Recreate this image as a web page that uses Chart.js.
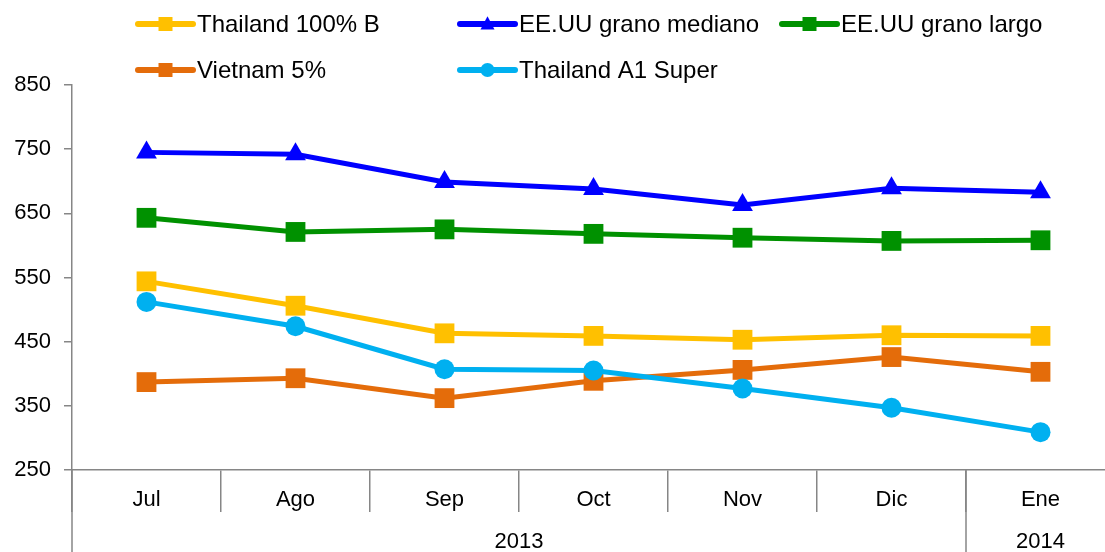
<!DOCTYPE html>
<html>
<head>
<meta charset="utf-8">
<script src="https://cdn.jsdelivr.net/npm/chart.js@4.4.1/dist/chart.umd.min.js"></script>
<style>
  html, body { margin: 0; padding: 0; background: #fff; overflow: hidden; }
  #wrap { width: 1105px; height: 552px; overflow: hidden; position: relative; }
  #c { display: block; }
</style>
</head>
<body>
<div id="wrap"><canvas id="c" width="1129" height="552"></canvas></div>
<script>
// ─── DATA ────────────────────────────────────────────────────────────────────
const months = ['Jul', 'Ago', 'Sep', 'Oct', 'Nov', 'Dic', 'Ene'];
const yearLabels = ['2013', '2014'];
const yearSpans = [6, 1];
const yTicks = [250, 350, 450, 550, 650, 750, 850];

const thai100B   = [544, 506, 463, 459, 453, 460, 459];
const usMedium   = [745, 742, 699, 688, 663, 689, 683];
const usLong     = [643, 621, 625, 618, 612, 607, 608];
const vietnam5   = [387, 393, 362, 389, 406, 426, 403];
const thaiA1     = [512, 474, 407, 405, 377, 347, 309];

// ─── STYLE ───────────────────────────────────────────────────────────────────
const FONT = "'Liberation Sans', Arial, sans-serif";
const AXIS = '#868686';

const series = [
  { label: 'Thailand 100% B',     data: thai100B, color: '#FFC000', style: 'rect',     r: 14, order: 5 },
  { label: 'EE.UU grano mediano', data: usMedium, color: '#0000FF', style: 'triangle', r: 12, order: 4 },
  { label: 'EE.UU grano largo',   data: usLong,   color: '#009100', style: 'rect',     r: 14, order: 3 },
  { label: 'Vietnam 5%',          data: vietnam5, color: '#E46C0A', style: 'rect',     r: 14, order: 2 },
  { label: 'Thailand A1 Super',   data: thaiA1,   color: '#00B0F0', style: 'circle',   r: 10, order: 1 },
];

// legend slots: [x of line start, row y]
const legendSlots = [[138, 24], [460, 24], [782, 24], [138, 70], [460, 70]];

function marker(ctx, style, x, y, s, color) {
  ctx.fillStyle = color;
  ctx.beginPath();
  if (style === 'rect') ctx.rect(x - s / 2, y - s / 2, s, s);
  else if (style === 'circle') ctx.arc(x, y, s / 2, 0, Math.PI * 2);
  else { ctx.moveTo(x, y - s * 0.55); ctx.lineTo(x + s / 2, y + s * 0.4); ctx.lineTo(x - s / 2, y + s * 0.4); ctx.closePath(); }
  ctx.fill();
}

const extras = {
  id: 'extras',
  afterDraw(chart) {
    const { ctx, chartArea, scales: { x } } = chart;
    ctx.save();
    // legend
    ctx.font = '24px ' + FONT;
    ctx.textBaseline = 'middle';
    series.forEach((s, i) => {
      const [lx, ly] = legendSlots[i];
      ctx.strokeStyle = s.color;
      ctx.lineWidth = 6;
      ctx.lineCap = 'round';
      ctx.beginPath(); ctx.moveTo(lx, ly); ctx.lineTo(lx + 55, ly); ctx.stroke();
      marker(ctx, s.style, lx + 27.5, ly, 14, s.color);
      ctx.fillStyle = '#000';
      ctx.fillText(s.label, lx + 59, ly + 1);
    });
    // y axis extends down through the category area
    ctx.strokeStyle = AXIS;
    ctx.lineWidth = 1.5;
    ctx.lineCap = 'butt';
    ctx.beginPath();
    ctx.moveTo(chartArea.left, chartArea.bottom);
    ctx.lineTo(chartArea.left, chart.height);
    // year groups
    let start = 0;
    const half = (x.getPixelForValue(1) - x.getPixelForValue(0)) / 2;
    ctx.font = '22px ' + FONT;
    ctx.fillStyle = '#000';
    ctx.textAlign = 'center';
    yearLabels.forEach((yl, i) => {
      const a = x.getPixelForValue(start) - half;
      const b = x.getPixelForValue(start + yearSpans[i] - 1) + half;
      if (i > 0) { ctx.moveTo(a, chartArea.bottom); ctx.lineTo(a, chart.height); }
      ctx.fillText(yl, (a + b) / 2, 542);
      start += yearSpans[i];
    });
    ctx.stroke();
    ctx.restore();
  }
};

new Chart(document.getElementById('c'), {
  type: 'line',
  data: {
    labels: months,
    datasets: series.map(s => ({
      label: s.label,
      data: s.data,
      order: s.order,
      borderColor: s.color,
      backgroundColor: s.color,
      borderWidth: 5,
      pointStyle: s.style,
      pointRadius: s.r,
      pointBorderWidth: 0,
      pointHoverRadius: s.r,
      tension: 0,
    })),
  },
  options: {
    responsive: false,
    animation: false,
    layout: { padding: { top: 85, right: 1, left: 0, bottom: 0 } },
    plugins: { legend: { display: false }, tooltip: { enabled: false } },
    scales: {
      x: {
        offset: true,
        afterFit: sc => { sc.height = 82; },
        grid: { display: true, drawOnChartArea: false, offset: true, tickLength: 42, color: AXIS, lineWidth: 1.5 },
        border: { display: true, color: AXIS, width: 1.5 },
        ticks: { color: '#000', font: { family: FONT, size: 22 }, padding: -25, maxRotation: 0, autoSkip: false },
      },
      y: {
        min: 250, max: 850,
        afterFit: sc => { sc.width = 72; },
        afterBuildTicks: sc => { sc.ticks = yTicks.map(v => ({ value: v })); },
        grid: { drawOnChartArea: false, tickLength: 8, color: AXIS, lineWidth: 1.5 },
        border: { display: true, color: AXIS, width: 1.5 },
        ticks: { color: '#000', font: { family: FONT, size: 22 }, padding: 13 },
      },
    },
  },
  plugins: [extras],
});
</script>
</body>
</html>
